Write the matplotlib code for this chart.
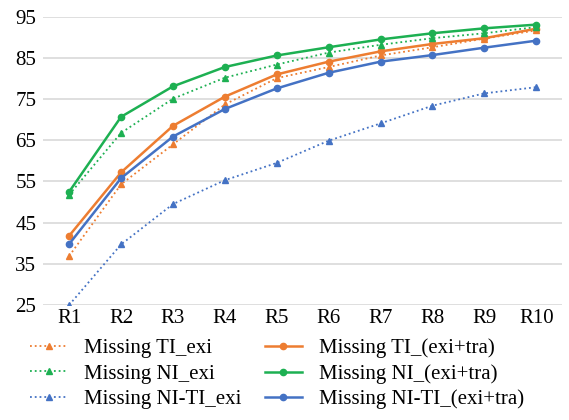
import matplotlib
matplotlib.use("Agg")
import matplotlib.pyplot as plt

categories = ["R1", "R2", "R3", "R4", "R5", "R6", "R7", "R8", "R9", "R10"]
ti_exi = [36.9, 54.3, 64.0, 73.7, 80.1, 82.8, 85.6, 87.6, 89.7, 91.7]
ti_exitra = [41.8, 57.2, 68.5, 75.6, 81.0, 84.1, 86.6, 88.4, 89.8, 92.1]
ni_exi = [51.8, 66.8, 75.1, 80.2, 83.4, 86.3, 88.2, 89.8, 91.0, 92.5]
ni_exitra = [52.5, 70.7, 78.1, 82.8, 85.6, 87.6, 89.5, 91.0, 92.2, 93.1]
niti_exi = [25.0, 39.7, 49.5, 55.3, 59.5, 64.9, 69.1, 73.4, 76.4, 77.9]
niti_exitra = [39.8, 55.8, 65.9, 72.6, 77.6, 81.4, 84.1, 85.7, 87.5, 89.2]
yticks = [25, 35, 45, 55, 65, 75, 85, 95]

ORANGE = "#ED7D31"
GREEN = "#1DB052"
BLUE = "#4472C4"

plt.rcParams["font.family"] = ["Liberation Serif", "DejaVu Serif"]

fig = plt.figure(figsize=(5.69, 4.2), dpi=100)
ax = fig.add_axes([0.076, 0.274, 0.912, 0.686])
x = list(range(len(categories)))

h1, = ax.plot(x, ti_exi, color=ORANGE, ls=":", lw=1.3, marker="^", ms=4, label="Missing TI_exi")
h4, = ax.plot(x, ti_exitra, color=ORANGE, ls="-", lw=1.8, marker="o", ms=4.5, label="Missing TI_(exi+tra)")
h2, = ax.plot(x, ni_exi, color=GREEN, ls=":", lw=1.3, marker="^", ms=4, label="Missing NI_exi")
h5, = ax.plot(x, ni_exitra, color=GREEN, ls="-", lw=1.8, marker="o", ms=4.5, label="Missing NI_(exi+tra)")
h3, = ax.plot(x, niti_exi, color=BLUE, ls=":", lw=1.3, marker="^", ms=4, label="Missing NI-TI_exi")
h6, = ax.plot(x, niti_exitra, color=BLUE, ls="-", lw=1.8, marker="o", ms=4.5, label="Missing NI-TI_(exi+tra)")

ax.set_xlim(-0.5, len(categories) - 0.5)
ax.set_ylim(25, 95)
ax.set_yticks(yticks)
ax.set_xticks(x)
ax.set_xticklabels(categories)
ax.tick_params(axis="both", length=0, labelsize=15)
ax.tick_params(axis="y", pad=5)
ax.tick_params(axis="x", pad=3)
for s in ax.spines.values():
    s.set_visible(False)
ax.yaxis.grid(True, color="#D9D9D9", lw=1.2)
ax.set_axisbelow(True)

fig.legend(handles=[h1, h2, h3, h4, h5, h6], loc="upper left",
           bbox_to_anchor=(0.053, 0.194), ncol=2, frameon=False,
           borderpad=0, borderaxespad=0,
           fontsize=15, handlelength=1.8, columnspacing=1.1,
           labelspacing=0.28, handletextpad=0.8)

fig.savefig("out.png", dpi=100)
